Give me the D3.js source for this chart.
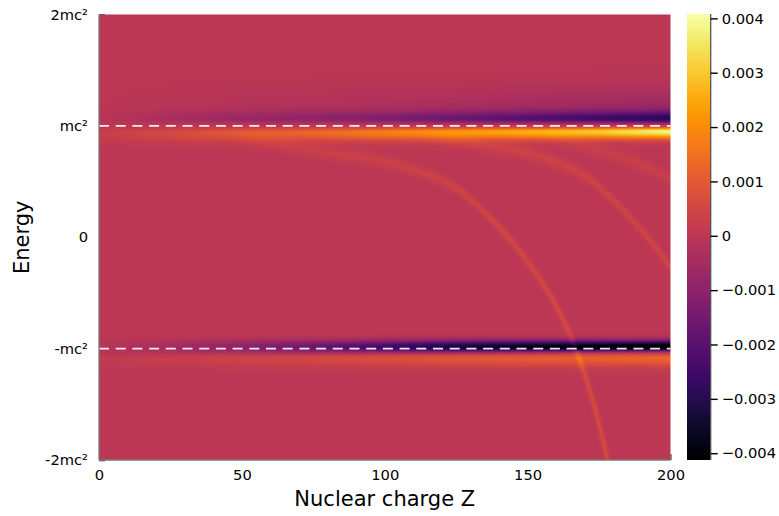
<!DOCTYPE html>
<html>
<head>
<meta charset="utf-8">
<script src="https://cdn.jsdelivr.net/npm/d3@7"></script>
<style>
  body { margin: 0; background: #fff; }
  svg { display: block; }
  text { font-family: "DejaVu Sans", sans-serif; fill: #000; }
</style>
</head>
<body>
<svg id="chart" width="779" height="516"></svg>
<script>
// ---- Axis ticks ----
const zTicks = [0, 50, 100, 150, 200];
const energyTicks = [-2, -1, 0, 1, 2];
const energyLabels = ["-2mc²", "-mc²", "0", "mc²", "2mc²"];
const colorTicks = [-0.004, -0.003, -0.002, -0.001, 0, 0.001, 0.002, 0.003, 0.004];
const colorDomain = [-0.004125, 0.00408];

// ---- Continuum edge features: strength of each lobe versus Z ----
const bandZ     = [0, 25, 50, 75, 100, 125, 150, 175, 200];
const upperDip  = [-0.00005, -0.0004, -0.0007, -0.0009, -0.0012, -0.0016, -0.002, -0.0024, -0.0028];
const upperPeak = [0.00025, 0.0006, 0.001, 0.0013, 0.0018, 0.0022, 0.0026, 0.0031, 0.0039];
const lowerDip  = [-0.0001, -0.0005, -0.001, -0.0017, -0.0025, -0.0034, -0.0039, -0.0044, -0.0048];
const lowerPeak = [0.0001, 0.00025, 0.0004, 0.00055, 0.0007, 0.0009, 0.001, 0.0011, 0.00125];

// ---- Bound-state lines: Z, energy (mc²), strength ----
const state1Z   = [46, 60, 77, 98, 122, 133, 145, 154.5, 162, 166.7, 172.7, 178];
const state1E   = [0.905, 0.843, 0.77, 0.69, 0.485, 0.27, -0.054, -0.385, -0.718, -0.996, -1.46, -2.0];
const state1Amp = [0, 0.00026, 0.0003, 0.00034, 0.0004, 0.00045, 0.0005, 0.00052, 0.00055, 0.0006, 0.0006, 0.0006];

const state2Z   = [112, 126, 137, 147.5, 168.5, 180, 192, 200];
const state2E   = [0.898, 0.862, 0.808, 0.772, 0.575, 0.332, 0.0, -0.27];
const state2Amp = [0, 0.0003, 0.00035, 0.0004, 0.0004, 0.00042, 0.00045, 0.00045];

const state3Z   = [154.5, 171, 186, 200];
const state3E   = [0.898, 0.808, 0.69, 0.53];
const state3Amp = [0, 0.00025, 0.0003, 0.0003];

// ---- Layout ----
const svg = d3.select("#chart");
const plot = { left: 99, right: 670.5, top: 14.5, bottom: 460 };
const x = d3.scaleLinear().domain([0, 200]).range([plot.left, plot.right]);
const y = d3.scaleLinear().domain([-2, 2]).range([plot.bottom, plot.top]);
const color = d3.scaleSequential(d3.interpolateInferno).domain(colorDomain).clamp(true);

// y ticks point into the plot; the heatmap hides all but the top one
const yAxis = d3.axisLeft(y).tickValues(energyTicks)
  .tickFormat((d, i) => energyLabels[i]).tickSizeInner(-6).tickSizeOuter(0).tickPadding(11);
const gy = svg.append("g").attr("transform", `translate(${plot.left},0)`).call(yAxis);
gy.select(".domain").remove();
gy.selectAll("line").attr("stroke", "#222").attr("stroke-width", 1.4);
gy.selectAll("text").style("font-size", "14.7px");

const xAxis = d3.axisBottom(x).tickValues(zTicks).tickFormat(d3.format("d"))
  .tickSizeInner(-6).tickSizeOuter(0).tickPadding(10);
const gx = svg.append("g").attr("transform", `translate(0,${plot.bottom})`).call(xAxis);
gx.select(".domain").remove();
gx.selectAll("line").attr("stroke", "#222");
gx.selectAll("text").style("font-size", "14.7px");

// ---- Bound-state lines densified along a smooth path ----
const lineGen = d3.line().x(d => x(d.Z)).y(d => y(d.E)).curve(d3.curveCatmullRom.alpha(0.5));
const guide = svg.append("g").attr("fill", "none").attr("stroke", "none");
const SIG_X = 1.8, SIG_Y = 3.2, ROW_R = 16;
const buckets = new Map();
function addState(zs, es, amps) {
  const pts = zs.map((z, i) => ({ Z: z, E: es[i] }));
  const path = guide.append("path").attr("d", lineGen(pts)).node();
  const amp = d3.scaleLinear().domain(zs).range(amps).clamp(true);
  const len = path.getTotalLength();
  for (let s = 0; s <= len; s += 0.5) {
    const p = path.getPointAtLength(s);
    const a = amp(x.invert(p.x));
    // lines broaden as they approach the continuum edge
    const near = (y.invert(p.y) - 0.3) / 0.7;
    const sy = SIG_Y * (1 + 0.6 * Math.max(0, Math.min(1, near)));
    const key = Math.floor(p.y);
    if (!buckets.has(key)) buckets.set(key, []);
    buckets.get(key).push([p.x, p.y, a, sy]);
  }
}
addState(state1Z, state1E, state1Amp);
addState(state2Z, state2E, state2Amp);
addState(state3Z, state3E, state3Amp);

function lineValue(px, py) {
  let best = Infinity, bestA = 0;
  const r0 = Math.floor(py);
  for (let r = r0 - ROW_R; r <= r0 + ROW_R; r++) {
    const b = buckets.get(r);
    if (!b) continue;
    for (let k = 0; k < b.length; k++) {
      const dx = (b[k][0] - px) / SIG_X, dy = (b[k][1] - py) / b[k][3];
      const d2 = dx * dx + dy * dy;
      if (d2 < best) { best = d2; bestA = b[k][2]; }
    }
  }
  return best < 30 ? bestA * Math.exp(-best / 2) : 0;
}

// ---- Continuum edge lobes ----
const sUpperDip = d3.scaleLinear().domain(bandZ).range(upperDip);
const sUpperPeak = d3.scaleLinear().domain(bandZ).range(upperPeak);
const sLowerDip = d3.scaleLinear().domain(bandZ).range(lowerDip);
const sLowerPeak = d3.scaleLinear().domain(bandZ).range(lowerPeak);
const lerp = (a, b, t) => a + (b - a) * t;
function lobe(E, c, sUp, sDn) {
  const s = E > c ? sUp : sDn;
  const u = (E - c) / s;
  return Math.exp(-u * u / 2);
}
function bandValue(Z, E) {
  const t = Z / 200;
  let v = 0;
  // just above +mc²
  v += sUpperDip(Z) * (0.75 * lobe(E, 1.065, 0.045, 0.027) + 0.3 * lobe(E, 1.065, 0.18, 0.027));
  // just below +mc²
  v += sUpperPeak(Z) * lobe(E, lerp(0.934, 0.952, t), lerp(0.031, 0.022, t), lerp(0.058, 0.045, t));
  // at -mc²
  v += sLowerDip(Z) * lobe(E, -0.988, lerp(0.045, 0.04, t), lerp(0.04, 0.022, t));
  // below -mc²
  v += sLowerPeak(Z) * lobe(E, -1.085, 0.027, 0.054);
  return v;
}

// ---- Heatmap cells ----
const W = 572, H = 446;
const canvas = document.createElement("canvas");
canvas.width = W; canvas.height = H;
const ctx = canvas.getContext("2d");
const img = ctx.createImageData(W, H);
const cw = (plot.right - plot.left) / W, ch = (plot.bottom - plot.top) / H;
const LUT_N = 2048;
const lut = d3.range(LUT_N).map(i => d3.rgb(color(colorDomain[0] + (colorDomain[1] - colorDomain[0]) * i / (LUT_N - 1))));
for (let r = 0; r < H; r++) {
  const py = plot.top + (r + 0.5) * ch;
  const E = y.invert(py);
  for (let c = 0; c < W; c++) {
    const px = plot.left + (c + 0.5) * cw;
    const Z = x.invert(px);
    const v = bandValue(Z, E) + lineValue(px, py);
    let k = Math.round((v - colorDomain[0]) / (colorDomain[1] - colorDomain[0]) * (LUT_N - 1));
    k = Math.max(0, Math.min(LUT_N - 1, k));
    const col = lut[k], o = (r * W + c) * 4;
    img.data[o] = col.r; img.data[o + 1] = col.g; img.data[o + 2] = col.b; img.data[o + 3] = 255;
  }
}
ctx.putImageData(img, 0, 0);
svg.append("image")
  .attr("x", plot.left).attr("y", plot.top)
  .attr("width", plot.right - plot.left).attr("height", plot.bottom - plot.top)
  .attr("preserveAspectRatio", "none")
  .attr("href", canvas.toDataURL());

// ---- Rest-mass reference lines ----
svg.append("g").selectAll("line").data([1, -1]).join("line")
  .attr("x1", plot.left).attr("x2", plot.right)
  .attr("y1", d => y(d)).attr("y2", d => y(d))
  .attr("stroke", "#fff").attr("stroke-opacity", 0.9)
  .attr("stroke-width", 1.6).attr("stroke-dasharray", "10,6.7");

// ---- Frame ----
svg.append("line").attr("x1", plot.left).attr("x2", plot.left)
  .attr("y1", plot.top).attr("y2", plot.bottom).attr("stroke", "#7a7a7a").attr("stroke-width", 1.3);
svg.append("line").attr("x1", plot.left).attr("x2", plot.right)
  .attr("y1", plot.bottom).attr("y2", plot.bottom).attr("stroke", "#7a7a7a").attr("stroke-width", 1.3);

// ---- Axis titles ----
svg.append("text").attr("x", (plot.left + plot.right) / 2).attr("y", 499)
  .attr("text-anchor", "middle").attr("dominant-baseline", "central")
  .style("font-size", "21px").text("Nuclear charge Z");
svg.append("text").attr("transform", `translate(22,${(plot.top + plot.bottom) / 2}) rotate(-90)`)
  .attr("text-anchor", "middle").attr("dominant-baseline", "central")
  .style("font-size", "21px").text("Energy");

// ---- Colorbar ----
const cb = { left: 687, right: 710.7, top: 14, bottom: 460 };
const cy = d3.scaleLinear().domain(colorDomain).range([cb.bottom, cb.top]);
const grad = svg.append("defs").append("linearGradient").attr("id", "cbgrad")
  .attr("x1", 0).attr("y1", 1).attr("x2", 0).attr("y2", 0);
grad.selectAll("stop").data(d3.range(0, 1.0001, 0.02)).join("stop")
  .attr("offset", d => d)
  .attr("stop-color", d => color(colorDomain[0] + d * (colorDomain[1] - colorDomain[0])));
svg.append("rect").attr("x", cb.left).attr("y", cb.top)
  .attr("width", cb.right - cb.left).attr("height", cb.bottom - cb.top)
  .attr("fill", "url(#cbgrad)");
svg.append("line").attr("x1", cb.right).attr("x2", cb.right)
  .attr("y1", cb.top).attr("y2", cb.bottom).attr("stroke", "#555").attr("stroke-width", 1.3);
const cAxis = d3.axisRight(cy).tickValues(colorTicks)
  .tickFormat(d => d === 0 ? "0" : d3.format(".3f")(d)).tickSizeInner(7).tickSizeOuter(0).tickPadding(4);
const gc = svg.append("g").attr("transform", `translate(${cb.right},0)`).call(cAxis);
gc.select(".domain").remove();
gc.selectAll("line").attr("stroke", "#000").attr("stroke-width", 1.4);
gc.selectAll("text").style("font-size", "14.7px");
</script>
</body>
</html>
